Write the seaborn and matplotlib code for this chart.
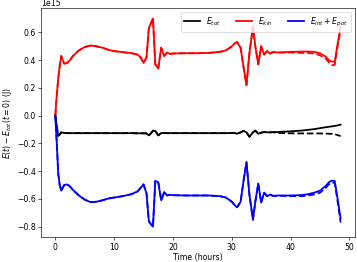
import numpy as np
import pandas as pd
import matplotlib
matplotlib.use("Agg")
import matplotlib.pyplot as plt
import seaborn as sns

# time grid (hours)
time_h = [0, 0.25, 0.5, 0.75, 1.0, 1.5, 2.0, 2.5, 3.0, 4.0, 5.0, 6.0, 7.0, 8.0, 9.0,
          10, 11, 12, 13, 14, 14.5, 15.0, 15.5, 15.9, 16.3, 16.6, 17.0, 17.5, 18.0,
          18.5, 19.0, 19.5, 20, 22, 24, 26, 28, 29, 30, 30.5, 30.9, 31.5, 32.0, 32.5,
          33.0, 33.6, 34.0, 34.5, 35.0, 35.5, 36.0, 36.5, 37.0,
          38, 40, 42, 43, 44, 45, 46, 46.5, 47.0, 47.5, 48.0, 48.5]

# energies in units of 1e15 J
e_kin = [0, 0.15, 0.27, 0.36, 0.43, 0.375, 0.38, 0.40, 0.43, 0.47, 0.495, 0.505, 0.50, 0.49, 0.475,
         0.465, 0.46, 0.455, 0.45, 0.44, 0.42, 0.38, 0.42, 0.63, 0.67, 0.70, 0.37, 0.34, 0.49,
         0.43, 0.455, 0.445, 0.448, 0.45, 0.45, 0.452, 0.46, 0.47, 0.50, 0.52, 0.53, 0.49, 0.35, 0.22,
         0.45, 0.64, 0.50, 0.37, 0.50, 0.44, 0.465, 0.448, 0.458,
         0.455, 0.46, 0.462, 0.462, 0.46, 0.45, 0.425, 0.40, 0.39, 0.39, 0.52, 0.64]

e_pot = [0, -0.20, -0.42, -0.50, -0.54, -0.50, -0.495, -0.51, -0.535, -0.575, -0.605, -0.623, -0.62, -0.61, -0.597,
         -0.59, -0.583, -0.575, -0.565, -0.545, -0.52, -0.495, -0.56, -0.76, -0.785, -0.80, -0.47, -0.48, -0.61,
         -0.55, -0.575, -0.57, -0.573, -0.575, -0.575, -0.575, -0.58, -0.59, -0.62, -0.645, -0.66, -0.62, -0.47, -0.335,
         -0.57, -0.75, -0.62, -0.49, -0.625, -0.555, -0.58, -0.568, -0.578,
         -0.575, -0.575, -0.572, -0.565, -0.555, -0.54, -0.505, -0.48, -0.468, -0.47, -0.60, -0.74]

e_tot = [0, -0.08, -0.145, -0.135, -0.12, -0.125, -0.126, -0.126, -0.126, -0.126, -0.126, -0.126, -0.126, -0.126, -0.126,
         -0.126, -0.126, -0.126, -0.126, -0.127, -0.127, -0.127, -0.128, -0.142, -0.125, -0.108, -0.11, -0.142, -0.125,
         -0.125, -0.126, -0.126, -0.126, -0.126, -0.126, -0.126, -0.126, -0.126, -0.125, -0.125, -0.13, -0.12, -0.11, -0.12,
         -0.152, -0.12, -0.108, -0.13, -0.122, -0.118, -0.12, -0.12, -0.119,
         -0.117, -0.113, -0.107, -0.102, -0.097, -0.09, -0.083, -0.08, -0.077, -0.074, -0.07, -0.065]

# dashed runs differ only from t = 38 h onward
n_early = 53
e_kin_dash_tail = [0.455, 0.455, 0.452, 0.452, 0.448, 0.435, 0.41, 0.385, 0.365, 0.365, 0.50, 0.62]
e_pot_dash_tail = [-0.577, -0.58, -0.58, -0.575, -0.568, -0.555, -0.52, -0.495, -0.48, -0.485, -0.62, -0.77]
e_tot_dash_tail = [-0.125, -0.127, -0.128, -0.128, -0.128, -0.128, -0.129, -0.13, -0.131, -0.133, -0.14, -0.147]

e_kin_dash = e_kin[:n_early] + e_kin_dash_tail
e_pot_dash = e_pot[:n_early] + e_pot_dash_tail
e_tot_dash = e_tot[:n_early] + e_tot_dash_tail

scale = 1e15
df = pd.DataFrame({"t": time_h})
for name, vals in [("tot", e_tot), ("kin", e_kin), ("pot", e_pot),
                   ("tot_d", e_tot_dash), ("kin_d", e_kin_dash), ("pot_d", e_pot_dash)]:
    df[name] = np.array(vals) * scale

fig, ax = plt.subplots(figsize=(357 / 56, 262 / 56), dpi=56)
fig.subplots_adjust(left=0.115, right=0.994, top=0.969, bottom=0.095)

lw = 2.3
sns.lineplot(data=df, x="t", y="tot_d", color="black", lw=lw, ls="--", ax=ax)
sns.lineplot(data=df, x="t", y="kin_d", color="red", lw=lw, ls="--", ax=ax)
sns.lineplot(data=df, x="t", y="pot_d", color="blue", lw=lw, ls="--", ax=ax)
sns.lineplot(data=df, x="t", y="tot", color="black", lw=lw, ax=ax, label=r"$E_{tot}$")
sns.lineplot(data=df, x="t", y="kin", color="red", lw=lw, ax=ax, label=r"$E_{kin}$")
sns.lineplot(data=df, x="t", y="pot", color="blue", lw=lw, ax=ax, label=r"$E_{int} + E_{pot}$")

ax.ticklabel_format(axis="y", style="sci", scilimits=(15, 15))
ax.set_xlabel("Time (hours)", labelpad=2)
ax.set_ylabel(r"$E(t) - E_{tot}(t=0)$ (J)")
ax.legend(loc="upper right", ncol=3)

fig.savefig("out.png", dpi=56)
